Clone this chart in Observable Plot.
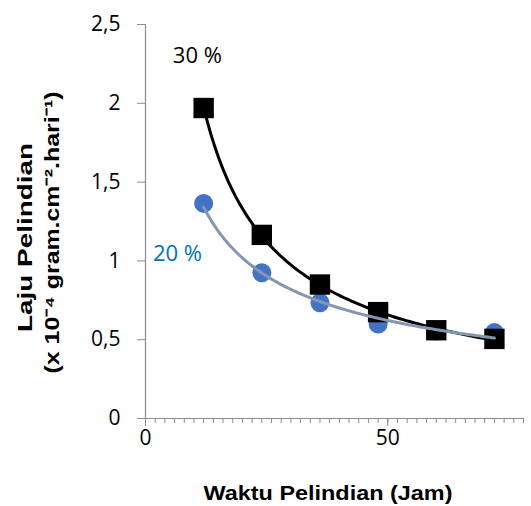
<!DOCTYPE html>
<html>
<head>
<meta charset="utf-8">
<script src="https://cdn.jsdelivr.net/npm/d3@7"></script>
<script src="https://cdn.jsdelivr.net/npm/@observablehq/plot@0.6"></script>
<style>
  html, body { margin: 0; padding: 0; background: #fff; }
</style>
</head>
<body>
<div id="chart"></div>
<script>
// Data
const hours = [12, 24, 36, 48, 60, 72];
const rate30 = [1.97, 1.165, 0.85, 0.675, 0.56, 0.505];
const rate20 = [1.365, 0.925, 0.735, 0.60, 0.555, 0.545];
const yTicks = [0, 0.5, 1, 1.5, 2, 2.5];
const xTicks = [0, 50];
const seriesLabels = ["30 %", "20 %"];
const labelX = [10.7, 6.6];
const labelY = [2.30, 1.045];
const yTitle1 = "Laju Pelindian";
const yTitle2 = "(x 10\u207B\u2074 gram.cm\u207B\u00B2.hari\u207B\u00B9)";
const xTitle = "Waktu Pelindian (Jam)";

// Power trendline (least squares in log space, as a spreadsheet does)
function powerFit(xs, ys) {
  const lx = xs.map(Math.log), ly = ys.map(Math.log);
  const mx = d3.mean(lx), my = d3.mean(ly);
  const b = d3.sum(lx, (v, i) => (v - mx) * (ly[i] - my)) / d3.sum(lx, v => (v - mx) ** 2);
  const a = Math.exp(my - b * mx);
  return x => a * Math.pow(x, b);
}
const f30 = powerFit(hours, rate30);
const f20 = powerFit(hours, rate20);
const xs = d3.range(hours[0], hours[hours.length - 1] + 0.001, 0.5);
const trend30 = xs.map(x => ({x, y: f30(x)}));
const trend20 = xs.map(x => ({x, y: f20(x)}));

const pts30 = hours.map((h, i) => ({x: h, y: rate30[i]}));
const pts20 = hours.map((h, i) => ({x: h, y: rate20[i]}));
const labels = seriesLabels.map((t, i) => ({t, x: labelX[i], y: labelY[i]}));

const axisColor = "#8c8c8c";
const fmt = d => String(d).replace(".", ",");
const titleFont = "'Liberation Sans', Arial, sans-serif";

const chart = Plot.plot({
  width: 531,
  height: 506,
  marginLeft: 145,
  marginRight: 8,
  marginTop: 24,
  marginBottom: 88,
  style: {fontFamily: "'Open Sans', sans-serif", fontSize: "21px", color: "#000", background: "#fff"},
  x: {domain: [0, 78]},
  y: {domain: [0, 2.5]},
  marks: [
    Plot.ruleX([0], {y1: 0, y2: 2.5, stroke: axisColor, strokeWidth: 1.2}),
    Plot.ruleY([0], {stroke: axisColor, strokeWidth: 1.2}),
    Plot.axisY({ticks: yTicks, tickFormat: fmt, tickSize: 8, tickPadding: 17, stroke: axisColor, fill: "#000", fontSize: 21, label: null}),
    Plot.axisX({ticks: d3.range(0, 79, 2), tickFormat: () => "", tickSize: 5, stroke: axisColor, label: null}),
    Plot.axisX({ticks: xTicks, tickFormat: fmt, tickSize: 8, tickPadding: 4, stroke: axisColor, fill: "#000", fontSize: 21, label: null}),
    Plot.dot(pts20, {x: "x", y: "y", r: 9.5, fill: "#4472C4", stroke: null}),
    Plot.dot(pts30, {x: "x", y: "y", symbol: "square", r: 11.5, fill: "#000", stroke: null}),
    Plot.line(trend30, {x: "x", y: "y", stroke: "#000", strokeWidth: 3, curve: "linear"}),
    Plot.line(trend20, {x: "x", y: "y", stroke: "#8497B0", strokeWidth: 3, curve: "linear"}),
    Plot.text(labels, {x: "x", y: "y", text: "t", fill: (d, i) => i === 0 ? "#000" : "#0070C0", fontSize: 22}),
    Plot.text([yTitle1], {frameAnchor: "left", textAnchor: "middle", lineAnchor: "middle", dx: -120, dy: 16, rotate: -90, fontWeight: "bold", fontSize: 21, fontFamily: titleFont}),
    Plot.text([yTitle2], {frameAnchor: "left", textAnchor: "middle", lineAnchor: "middle", dx: -93, dy: 11, rotate: -90, fontWeight: "bold", fontSize: 21, fontFamily: titleFont}),
    Plot.text([xTitle], {frameAnchor: "bottom", textAnchor: "middle", lineAnchor: "middle", dx: -6.5, dy: 75, fontWeight: "bold", fontSize: 21, fontFamily: titleFont})
  ]
});

// Stretch titles to the lengths seen in the reference
const lengths = new Map([[yTitle1, 189], [yTitle2, 282], [xTitle, 249]]);
chart.querySelectorAll("text").forEach(t => {
  const L = lengths.get(t.textContent);
  if (L) {
    t.setAttribute("textLength", L);
    t.setAttribute("lengthAdjust", "spacingAndGlyphs");
  }
});

document.getElementById("chart").appendChild(chart);
</script>
</body>
</html>
